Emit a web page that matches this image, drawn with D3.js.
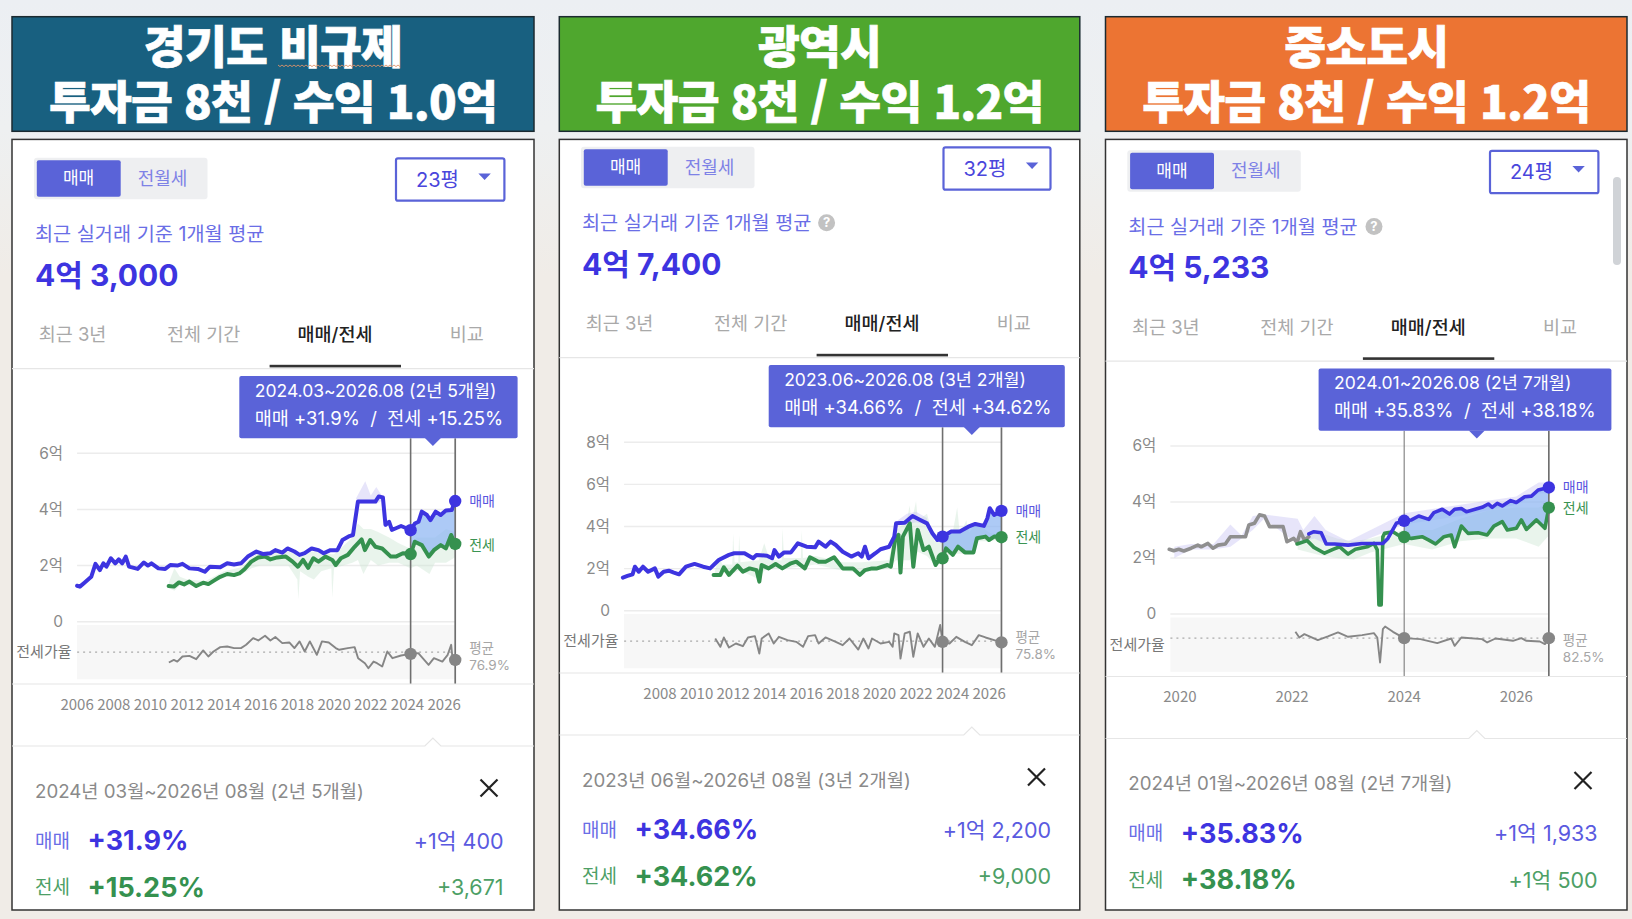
<!DOCTYPE html>
<html lang="ko">
<head>
<meta charset="utf-8">
<script src="https://cdn.jsdelivr.net/npm/d3@7"></script>
<style>
html,body{margin:0;padding:0;background:#f0ece7;}
svg{display:block;}
text{font-family:Inter,"Noto Sans CJK KR","Noto Sans",sans-serif;}
text.cjk{font-family:"Noto Sans CJK KR","Noto Sans",sans-serif;}
</style>
</head>
<body>
<svg id="chart" width="1632" height="919"></svg>
<script>
// titles + card text, one entry per region
const regions = ['경기도 비규제', '광역시', '중소도시'];
const headlines = ['투자금 8천 / 수익 1.0억', '투자금 8천 / 수익 1.2억', '투자금 8천 / 수익 1.2억'];
const sizes = ['23평', '32평', '24평'];
const prices = ['4억 3,000', '4억 7,400', '4억 5,233'];
const tabs = ['최근 3년', '전체 기간', '매매/전세', '비교'];
const tipRanges = ['2024.03~2026.08 (2년 5개월)', '2023.06~2026.08 (3년 2개월)', '2024.01~2026.08 (2년 7개월)'];
const tipValues = ['매매 +31.9%  /  전세 +15.25%', '매매 +34.66%  /  전세 +34.62%', '매매 +35.83%  /  전세 +38.18%'];
const detailRanges = ['2024년 03월~2026년 08월 (2년 5개월)', '2023년 06월~2026년 08월 (3년 2개월)', '2024년 01월~2026년 08월 (2년 7개월)'];
const salePct = ['+31.9%', '+34.66%', '+35.83%'];
const rentPct = ['+15.25%', '+34.62%', '+38.18%'];
const saleGain = ['+1억 400', '+1억 2,200', '+1억 1,933'];
const rentGain = ['+3,671', '+9,000', '+1억 500'];
const avgRatio = [76.9, 75.8, 82.5];
const rangeStart = [2024.17, 2023.45, 2024.0];
const rangeEnd = [2026.6, 2026.67, 2026.58];
const yTicks = [[0, 2, 4, 6], [0, 2, 4, 6, 8], [0, 2, 4, 6]];
const xTicks = [
  [2006, 2008, 2010, 2012, 2014, 2016, 2018, 2020, 2022, 2024, 2026],
  [2008, 2010, 2012, 2014, 2016, 2018, 2020, 2022, 2024, 2026],
  [2020, 2022, 2024, 2026],
];

// series: [year, 억] or [year, %]
const ggSale = [[2006,1.28],[2006.15,1.25],[2006.4,1.39],[2006.77,1.6],[2007,2.06],[2007.24,1.84],[2007.43,2.08],[2007.6,1.96],[2007.84,2.26],[2008.08,2.08],[2008.27,2.22],[2008.46,2.08],[2008.65,2.32],[2008.83,1.96],[2009.3,1.88],[2009.64,2.11],[2009.86,2],[2010.05,2.08],[2010.43,1.9],[2010.8,1.88],[2011.08,2.02],[2011.46,2],[2011.74,2.06],[2012.12,1.9],[2012.58,1.88],[2012.96,1.78],[2013.24,1.96],[2013.8,1.94],[2014.18,2.08],[2014.55,2.04],[2014.93,2.08],[2015.3,2.32],[2015.77,2.5],[2016.15,2.41],[2016.53,2.44],[2016.8,2.55],[2017.18,2.46],[2017.46,2.61],[2017.84,2.5],[2018.12,2.38],[2018.4,2.44],[2018.78,2.61],[2019.15,2.55],[2019.43,2.44],[2019.8,2.55],[2020.18,2.55],[2020.46,2.91],[2020.84,3.05],[2021.03,3.09],[2021.3,4.28],[2021.68,4.28],[2022.25,4.28],[2022.43,4.46],[2022.66,4.43],[2022.8,3.45],[2023,3.56],[2023.15,3.27],[2023.37,3.33],[2023.65,3.41],[2023.94,3.33],[2024.17,3.26],[2024.4,3.5],[2024.6,3.56],[2024.78,3.92],[2025.06,3.8],[2025.25,3.62],[2025.53,3.92],[2025.81,3.8],[2026.09,3.96],[2026.41,3.98],[2026.6,4.3]];
const ggRent = [[2010.99,1.27],[2011.27,1.25],[2011.55,1.4],[2011.83,1.33],[2012.12,1.43],[2012.49,1.27],[2012.87,1.39],[2013.15,1.34],[2013.52,1.49],[2013.8,1.6],[2014.18,1.7],[2014.55,1.66],[2014.84,1.72],[2015.12,1.87],[2015.49,2.14],[2015.87,2.29],[2016.24,2.32],[2016.53,2.22],[2016.9,2.29],[2017.37,2.32],[2017.74,2.14],[2018.03,1.96],[2018.31,2.2],[2018.59,1.92],[2018.87,2.26],[2019.15,2.14],[2019.53,2.32],[2019.9,2.2],[2020.09,2.02],[2020.37,2.26],[2020.75,2.38],[2021.12,2.67],[2021.5,2.93],[2021.68,2.55],[2021.97,2.91],[2022.25,2.67],[2022.62,2.61],[2023.09,2.32],[2023.37,2.32],[2023.75,2.44],[2024.17,2.41],[2024.4,2.85],[2024.78,2.73],[2025.16,2.32],[2025.44,2.55],[2025.81,2.73],[2026.09,2.61],[2026.38,3.09],[2026.6,2.77]];
const ggRatio = [[2011,59.7],[2011.27,64.1],[2011.46,61.3],[2011.74,69.7],[2012.12,70.8],[2012.49,65.2],[2012.87,79.7],[2013.15,69.7],[2013.43,78],[2013.8,85.2],[2014.18,86.3],[2014.55,83.6],[2014.93,83.6],[2015.21,89.1],[2015.59,100.2],[2015.87,96.3],[2016.24,104.1],[2016.53,96.3],[2016.8,101.9],[2017.18,91.9],[2017.56,93],[2017.84,83.6],[2018.12,94.7],[2018.4,78],[2018.68,94.7],[2019.06,72.5],[2019.34,94.7],[2019.71,93],[2020.09,83.6],[2020.28,80.8],[2020.75,83.6],[2021.12,85.2],[2021.31,66.9],[2021.68,58.6],[2021.87,50.2],[2022.15,61.3],[2022.34,58.6],[2022.62,53],[2022.9,78],[2023.18,66.9],[2023.65,71.3],[2024.17,74],[2024.59,75.2],[2025.15,55.8],[2025.44,66.9],[2025.9,61.3],[2026.19,72.5],[2026.38,89.1],[2026.47,61.3],[2026.6,64]];
// faint min/max bands: [year, low, high]
const ggRentBand = [[2011,1.2,1.4],[2011.3,1.1,1.9],[2011.6,1.3,1.6],[2012,1.3,1.5],[2013,1.3,1.45],[2014,1.6,1.8],[2015,1.7,1.95],[2015.5,1.9,2.3],[2016,2,2.5],[2017,2,2.45],[2017.5,2,2.5],[2018,1.5,2.4],[2018.05,.8,2.4],[2018.15,1.8,2.3],[2018.6,1.6,2.5],[2018.9,1.5,2.5],[2019.3,1.8,2.5],[2019.85,1.9,2.4],[2019.9,.85,2.4],[2020,1.9,2.4],[2020.5,2,2.7],[2021,2.1,3],[2021.3,2.2,3.5],[2021.6,1.7,3.3],[2022,2.2,3.3],[2022.4,2,3.2],[2023,2.1,3],[2023.5,2.1,2.8],[2024.17,1.9,2.6],[2024.5,2,3],[2025.2,1.7,3],[2025.5,2.1,3],[2026.1,2.1,3.3],[2026.6,2.3,3.2]];
const ggSaleBand = [[2021.2,4.2,4.4],[2021.7,4.2,5],[2022,4.2,4.5],[2022.3,4.2,4.8],[2022.6,4.3,4.5]];

const gjSale = [[2005.97,1.57],[2006.22,1.65],[2006.5,1.73],[2006.63,2.09],[2006.84,1.85],[2007.07,2.09],[2007.35,1.85],[2007.72,2.01],[2007.91,1.62],[2008.2,1.85],[2008.48,1.9],[2008.76,1.81],[2009.04,1.73],[2009.42,2.09],[2009.89,2.22],[2010.36,2.09],[2010.74,2.01],[2011.21,2.41],[2011.77,2.65],[2012.06,2.73],[2012.62,2.73],[2013.09,2.49],[2013.28,2.65],[2013.85,2.61],[2014.13,2.49],[2014.26,2.88],[2014.5,2.57],[2014.79,2.77],[2015.16,2.77],[2015.54,3.2],[2016.01,3.04],[2016.48,3.01],[2016.67,3.28],[2017.05,3.04],[2017.33,3.28],[2017.61,3.12],[2017.99,2.8],[2018.46,2.57],[2018.84,2.73],[2019.03,2.57],[2019.21,3.04],[2019.4,2.49],[2019.78,2.73],[2020.06,2.92],[2020.53,3.04],[2020.81,3.52],[2020.91,4.15],[2021.38,4.18],[2021.81,4.5],[2022.23,4.31],[2022.6,4.15],[2022.89,3.68],[2023.17,3.36],[2023.45,3.52],[2023.92,3.76],[2024.39,3.76],[2024.86,3.99],[2025.24,4.12],[2025.71,4.03],[2025.9,4.39],[2026.03,4.87],[2026.27,4.55],[2026.67,4.74]];
const gjRent = [[2010.93,1.7],[2011.3,1.7],[2011.49,2.06],[2011.77,1.7],[2012.24,2.14],[2012.53,1.85],[2012.9,2.01],[2013.28,1.93],[2013.43,1.38],[2013.56,2.17],[2013.94,2.01],[2014.32,2.22],[2014.69,2.01],[2015.16,2.25],[2015.45,2.33],[2015.92,2.01],[2016.2,2.54],[2016.67,2.33],[2017.05,2.33],[2017.52,2.54],[2017.99,2.01],[2018.55,2.01],[2018.93,1.7],[2019.21,1.93],[2019.59,2.01],[2019.87,2.01],[2020.44,2.17],[2020.62,2.09],[2020.87,3.44],[2021.04,3.6],[2021.15,1.81],[2021.28,3.52],[2021.66,4.15],[2021.85,2.09],[2022.09,3.84],[2022.41,2.88],[2022.7,3.04],[2023.07,2.17],[2023.36,2.57],[2023.45,2.49],[2023.64,2.96],[2024.01,2.65],[2024.3,3.04],[2024.67,2.77],[2025.14,2.77],[2025.33,3.44],[2025.8,3.52],[2025.99,3.36],[2026.27,3.52],[2026.67,3.49]];
const gjRatio = [[2011.02,80.2],[2011.3,66.4],[2011.49,81.9],[2011.77,65.2],[2012.15,71.9],[2012.53,67.5],[2012.81,81.9],[2013.19,84.1],[2013.43,55.2],[2013.56,80.2],[2013.94,88.6],[2014.22,71.9],[2014.5,83],[2014.97,77.5],[2015.45,74.7],[2015.82,66.4],[2016.1,84.1],[2016.48,85.8],[2016.67,71.9],[2017.05,81.9],[2017.61,74.7],[2017.99,69.1],[2018.36,80.2],[2018.84,61.9],[2019.12,80.2],[2019.4,63.6],[2019.59,80.2],[2020.06,71.9],[2020.53,74.7],[2020.72,66.4],[2020.81,88.6],[2021.04,85.8],[2021.15,46.9],[2021.38,88.6],[2021.66,91.4],[2021.85,49.7],[2022.09,88.6],[2022.41,66.4],[2022.7,80.2],[2023.03,66.4],[2023.32,102.5],[2023.45,74.7],[2023.83,71.9],[2024.2,83],[2024.67,74.7],[2025.05,69.1],[2025.43,85.8],[2025.8,81.9],[2026.27,77.5],[2026.67,73.6]];
const gjRentBand = [[2011,1.6,1.9],[2011.25,1.7,2.6],[2011.4,1.8,2.2],[2011.95,1.8,2.2],[2012,1.8,3.65],[2012.08,1.8,2.3],[2012.28,1.9,2.3],[2012.33,1.9,3.6],[2012.4,1.9,2.3],[2013.4,1.5,2.4],[2013.7,1.9,3.2],[2014,2,2.4],[2014.65,2,2.4],[2014.7,2,3.9],[2014.78,2,2.5],[2015.7,2.1,2.5],[2015.75,2.1,3.8],[2015.82,2.1,2.5],[2016.5,2.2,2.6],[2018,1.9,2.3],[2019,1.8,2.3],[2020.5,2,2.4],[2020.9,2.4,3.8],[2021.5,2.4,4.3],[2021.65,2.4,5],[2021.75,2.5,4.2],[2022,2.6,5.2],[2022.1,2.8,4.3],[2022.6,2.6,4.6],[2023,2.2,3.3],[2023.5,2.5,3.8],[2024,2.7,3.7],[2024.25,2.7,4.9],[2024.4,2.7,3.6],[2024.75,2.7,4.3],[2024.9,2.7,3.7],[2025.3,3.3,4.2],[2026,3.3,3.7],[2026.6,3.4,3.6]];
const gjSaleBand = [[2021,4.1,4.3],[2021.5,4.1,4.6],[2022,4.2,4.7],[2022.6,4.1,4.4]];

const smEarly = [[2019.81,2.31],[2019.89,2.26],[2019.98,2.31],[2020.07,2.25],[2020.2,2.35],[2020.32,2.46],[2020.38,2.4],[2020.5,2.52],[2020.59,2.35],[2020.68,2.46],[2020.81,2.5],[2020.9,2.76],[2021.17,2.76],[2021.23,3.18],[2021.33,3.24],[2021.42,3.54],[2021.51,3.5],[2021.6,3.12],[2021.84,3.12],[2021.91,2.58],[2022.03,2.7],[2022.09,2.55],[2022.15,2.94],[2022.22,2.64],[2022.3,2.76]];
const smSale = [[2022.3,2.86],[2022.39,2.94],[2022.52,2.9],[2022.61,2.5],[2022.76,2.5],[2023,2.46],[2023.25,2.52],[2023.62,2.52],[2023.71,2.7],[2023.86,3.24],[2024,3.33],[2024.13,3.36],[2024.26,3.5],[2024.44,3.38],[2024.53,3.62],[2024.68,3.74],[2024.81,3.57],[2024.9,3.74],[2025.02,3.77],[2025.11,3.65],[2025.39,3.81],[2025.5,3.93],[2025.57,3.81],[2025.66,3.95],[2025.75,3.86],[2025.9,4.05],[2026,3.98],[2026.15,4.19],[2026.27,4.21],[2026.39,4.43],[2026.58,4.52]];
const smRent = [[2022.09,2.5],[2022.27,2.62],[2022.39,2.38],[2022.58,2.17],[2022.73,2.31],[2022.85,2.4],[2023,2.14],[2023.13,2.31],[2023.34,2.4],[2023.46,2.52],[2023.52,2.29],[2023.55,.32],[2023.59,.32],[2023.62,2.76],[2023.65,2.88],[2023.8,2.94],[2023.89,2.82],[2024,2.75],[2024.13,2.7],[2024.32,2.76],[2024.44,2.64],[2024.56,2.5],[2024.71,2.76],[2024.84,2.82],[2024.9,2.4],[2025.02,3.14],[2025.14,2.88],[2025.32,2.9],[2025.48,2.82],[2025.6,3.14],[2025.75,3.3],[2025.84,3],[2026,3.06],[2026.09,3.36],[2026.18,3.02],[2026.36,3.36],[2026.51,3.06],[2026.58,3.8]];
const smRatio = [[2022.06,100.6],[2022.13,84.4],[2022.22,93.9],[2022.46,76.8],[2022.64,87.3],[2022.82,98.7],[2023,86.3],[2023.25,91.1],[2023.46,96.8],[2023.52,84.4],[2023.57,13],[2023.62,108.2],[2023.66,115.8],[2023.8,100.6],[2024,82.5],[2024.29,79.6],[2024.59,68.2],[2024.84,81.5],[2024.9,60.6],[2025.02,84.4],[2025.39,79.6],[2025.48,70.1],[2025.63,81.5],[2025.94,74.9],[2026.09,82.5],[2026.18,74.9],[2026.42,73],[2026.51,65.4],[2026.58,82.5]];
const smRentBand = [[2022.1,2.3,2.8],[2022.5,2.1,2.9],[2022.8,2,2.7],[2023.1,1.95,2.6],[2023.4,2.2,2.7],[2024,2.5,3],[2024.5,2.3,3],[2025,2.6,3.4],[2025.5,2.7,3.7],[2026,2.7,3.8],[2026.4,2.4,3.8],[2026.58,2.8,4]];
const smSaleBand = [[2019.9,2,2.4],[2020.2,2.3,2.5],[2020.6,2.3,2.5],[2020.9,2.4,3.2],[2021.1,2.7,2.8],[2021.3,3,3.5],[2021.5,3.4,3.55],[2022.1,2.5,3.4],[2022.2,2.6,3],[2022.4,2.7,3.5],[2022.6,2.5,3],[2023,2.4,2.6],[2024,3.2,3.6],[2025,3.5,3.9],[2026,3.9,4.2],[2026.4,4.3,4.7],[2026.58,4.3,4.7]];

const C = { btn:'#5a63d8', sale:'#3d34e0', saleSoft:'#6a6ee6', rent:'#35914f', grey:'#8a8a8a', ratio:'#868686' };

// layout per card
const cards = [
  { x0:12, x1:534, head:'#186080', dx:0, dy:0, xa:[2006,77.1], xb:[2026,444.2], y0:621.7, yt:453.3, yMax:6, tip:[239.3,517.6,432.9], dom:[avgRatio[0]-45,avgRatio[0]+45], lw:4, lwStart:1.6,
    sale:ggSale, rent:ggRent, ratio:ggRatio, rentBand:ggRentBand, saleBand:ggSaleBand },
  { x0:559.3, x1:1079.8, head:'#4fa72e', dx:547, dy:-11, xa:[2008,660], xb:[2026,989.2], y0:610.7, yt:442.3, yMax:8, tip:[768.7,1064.8,971.8], dom:[avgRatio[1]-45,avgRatio[1]+45], lw:4, lwStart:1.6,
    sale:gjSale, rent:gjRent, ratio:gjRatio, rentBand:gjRentBand, saleBand:gjSaleBand },
  { x0:1105.5, x1:1627, head:'#ec7433', dx:1093.3, dy:-7.5, xa:[2020,1179.9], xb:[2026,1516.3], y0:614, yt:446, yMax:6, tip:[1318.6,1611.4,1476.8], dom:[-13.7,141.5], lw:3.6, lwStart:1,
    sale:smSale, rent:smRent, ratio:smRatio, rentBand:smRentBand, saleBand:smSaleBand, early:smEarly },
];

const svg = d3.select('#chart');
const defs = svg.append('defs');
const bg = defs.append('linearGradient').attr('id','pagebg').attr('x1',0).attr('x2',0).attr('y1',0).attr('y2',1);
bg.append('stop').attr('offset','0').attr('stop-color','#eceff3');
bg.append('stop').attr('offset','0.14').attr('stop-color','#eef0f1');
bg.append('stop').attr('offset','0.3').attr('stop-color','#f0ece7');
svg.append('rect').attr('width',1632).attr('height',919).attr('fill','url(#pagebg)');

function label(g, x, y, str, size, color, opt) {
  opt = opt || {};
  return g.append('text').attr('x',x).attr('y',y).attr('dy','0.35em')
    .attr('class',opt.cls || null)
    .attr('text-anchor',opt.anchor || 'start').attr('font-size',size)
    .attr('font-weight',opt.weight || 400).attr('fill',color)
    .style('white-space','pre').text(str);
}

function drawCard(c, i) {
  const g = svg.append('g');
  const px = v => v + c.dx, py = v => v + c.dy;

  // coloured title block
  g.append('rect').attr('x',c.x0).attr('y',16.7).attr('width',c.x1-c.x0).attr('height',114.6)
    .attr('fill',c.head).attr('stroke','#1b2a30').attr('stroke-width',1.5);
  const mid = (c.x0+c.x1)/2;
  const title = g.append('text').attr('class','cjk').attr('text-anchor','middle').attr('font-size',45.5)
    .attr('font-weight',900).attr('fill','#fff').attr('stroke','#fff').attr('stroke-width',0.6).attr('letter-spacing',-0.8);
  title.append('tspan').attr('x',mid).attr('y',64).text(regions[i]);
  title.append('tspan').attr('x',mid).attr('y',119).text(headlines[i]);
  if (i === 0) {
    // spell-check squiggle under the word
    const zz = d3.range(0,62).map(k => [278+k*2, 65+(k%2)*1.6]);
    g.append('path').attr('d',d3.line()(zz)).attr('fill','none').attr('stroke','#e0946a').attr('stroke-width',0.9);
  }

  // white card
  g.append('rect').attr('x',c.x0).attr('y',139.4).attr('width',c.x1-c.x0).attr('height',770.6)
    .attr('fill','#fff').attr('stroke','#333').attr('stroke-width',1.5);

  // sale / rent toggle
  g.append('rect').attr('x',px(34)).attr('y',py(157.7)).attr('width',173.5).attr('height',41.6).attr('rx',3).attr('fill','#eeeff1');
  g.append('rect').attr('x',px(36.8)).attr('y',py(160.3)).attr('width',83.9).attr('height',36.4).attr('rx',2).attr('fill',C.btn);
  label(g, px(78.6), py(178.5), '매매', 17, '#fff', {anchor:'middle'});
  label(g, px(162.5), py(178.5), '전월세', 18, '#7e82e6', {anchor:'middle'});
  const ddx = i === 1 ? 547.5 : i === 2 ? 1094 : 0;
  g.append('rect').attr('x',396+ddx).attr('y',py(158.3)).attr('width',i === 1 ? 107 : 108.4).attr('height',42.4).attr('rx',2)
    .attr('fill','#fff').attr('stroke',C.btn).attr('stroke-width',2.2);
  label(g, 437.5+ddx, py(179.5), sizes[i], 20, '#4a46dc', {anchor:'middle'});
  g.append('path').attr('d',d3.line()([[478.4+ddx,py(173.5)],[490.8+ddx,py(173.5)],[484.6+ddx,py(180)]])+'Z').attr('fill',C.btn);

  label(g, px(35), py(234.5), '최근 실거래 기준 1개월 평균', 19.7, C.saleSoft);
  if (i > 0) {
    const hx = i === 1 ? 826.6 : 1374, hy = i === 1 ? 222.8 : 226.5;
    g.append('circle').attr('cx',hx).attr('cy',hy).attr('r',8.5).attr('fill','#c2c2c2');
    label(g, hx, hy, '?', 13, '#fff', {anchor:'middle', weight:700});
  }
  label(g, px(35), py(275), prices[i], 30, C.sale, {weight:700});

  // tabs
  [72.5,203.6,335,466.8].forEach((x,k) => {
    label(g, px(x), py(335), tabs[k], 18.5, k === 2 ? '#222' : '#a9a9a9', {anchor:'middle', weight:k === 2 ? 500 : 400});
  });
  g.append('line').attr('x1',c.x0).attr('x2',c.x1).attr('y1',py(368.7)).attr('y2',py(368.7)).attr('stroke','#e6e6e6').attr('stroke-width',1.2);
  g.append('rect').attr('x',px(269.6)).attr('y',py(364.8)).attr('width',131.4).attr('height',2.6).attr('fill','#333');

  // scales
  const x = d3.scaleLinear().domain([c.xa[0],c.xb[0]]).range([c.xa[1],c.xb[1]]);
  const y = d3.scaleLinear().domain([0,c.yMax]).range([c.y0,c.yt]);
  const bandTop = py(625), bandBot = py(679.3);
  const yr = d3.scaleLinear().domain(c.dom).range([bandBot,bandTop]);
  const plotL = px(77.1), endX = x(rangeEnd[i]), startX = x(rangeStart[i]);

  // gridlines + y labels
  yTicks[i].forEach(t => {
    g.append('line').attr('x1',plotL).attr('x2',endX).attr('y1',y(t)).attr('y2',y(t)).attr('stroke','#ececec').attr('stroke-width',1.4);
    label(g, px(63), y(t), t === 0 ? '0' : t+'억', 15.5, C.grey, {anchor:'end'});
  });

  // ratio strip
  g.append('rect').attr('x',plotL).attr('y',bandTop).attr('width',endX-plotL).attr('height',bandBot-bandTop).attr('fill','#f7f7f7');
  const avgY = yr(avgRatio[i]);
  g.append('line').attr('x1',plotL).attr('x2',endX).attr('y1',avgY).attr('y2',avgY)
    .attr('stroke','#aaa').attr('stroke-width',1.2).attr('stroke-dasharray','2 4');
  label(g, px(71.5), i === 2 ? py(652.5) : avgY, '전세가율', 15, '#777', {anchor:'end'});

  // faint bands
  const band = d3.area().x(d => x(d[0])).y0(d => y(d[1])).y1(d => y(d[2]));
  g.append('path').attr('d',band(c.rentBand)).attr('fill','#cfe6d4').attr('opacity',0.45);
  g.append('path').attr('d',band(c.saleBand)).attr('fill','#c9c6f5').attr('opacity',0.45);

  // selected range between the lines
  const inRange = d => d[0] >= rangeStart[i]-0.001;
  const sel = c.sale.filter(inRange).concat(c.rent.filter(inRange).reverse());
  g.append('path').attr('d',d3.line().x(d => x(d[0])).y(d => y(d[1]))(sel)+'Z').attr('fill','#8db6f2').attr('opacity',0.72);

  const line = d3.line().x(d => x(d[0])).y(d => y(d[1]));
  const stroke = (data, color, w) => g.append('path').attr('d',line(data)).attr('fill','none')
    .attr('stroke',color).attr('stroke-width',w).attr('stroke-linejoin','round').attr('stroke-linecap','round');
  if (c.early) stroke(c.early, '#8f8f8f', c.lw);
  stroke(c.rent, C.rent, c.lw);
  stroke(c.sale, C.sale, c.lw);
  g.append('path').attr('d',d3.line().x(d => x(d[0])).y(d => yr(d[1]))(c.ratio)).attr('fill','none')
    .attr('stroke',C.ratio).attr('stroke-width',1.9).attr('stroke-linejoin','round');

  // range markers
  const tipBottom = py(438.3);
  g.append('line').attr('x1',startX).attr('x2',startX).attr('y1',tipBottom).attr('y2',py(684)).attr('stroke','#6f6f6f').attr('stroke-width',c.lwStart);
  g.append('line').attr('x1',endX).attr('x2',endX).attr('y1',tipBottom).attr('y2',py(684)).attr('stroke','#6f6f6f').attr('stroke-width',1.7);

  const at = (data, yr0) => data.reduce((a,b) => Math.abs(b[0]-yr0) < Math.abs(a[0]-yr0) ? b : a);
  [rangeStart[i],rangeEnd[i]].forEach(t => {
    g.append('circle').attr('cx',x(t)).attr('cy',y(at(c.sale,t)[1])).attr('r',6.2).attr('fill',C.sale);
    g.append('circle').attr('cx',x(t)).attr('cy',y(at(c.rent,t)[1])).attr('r',6.2).attr('fill',C.rent);
    g.append('circle').attr('cx',x(t)).attr('cy',yr(at(c.ratio,t)[1])).attr('r',6.2).attr('fill',C.ratio);
  });

  // end labels
  const lx = endX + 14;
  label(g, lx, y(at(c.sale,rangeEnd[i])[1]), '매매', 14, '#5a55e0');
  label(g, lx, y(at(c.rent,rangeEnd[i])[1]) + (i === 0 ? 1 : 0), '전세', 14, '#3b9452');
  label(g, lx, py(648), '평균', 13.5, '#a6a6a6');
  label(g, lx, py(665), avgRatio[i]+'%', 13.5, '#a6a6a6');

  // tooltip
  const [tl,tr,ta] = c.tip;
  g.append('rect').attr('x',tl).attr('y',py(376)).attr('width',tr-tl).attr('height',62.3).attr('rx',2).attr('fill',C.btn);
  g.append('path').attr('d',d3.line()([[ta-8,py(438)],[ta+8,py(438)],[ta,py(446)]])+'Z').attr('fill',C.btn);
  label(g, tl+15.5, py(390.8), tipRanges[i], 17.5, '#fff');
  label(g, tl+15.5, py(418.5), tipValues[i], 18.5, '#fff');

  // x axis
  g.append('line').attr('x1',c.x0).attr('x2',c.x1).attr('y1',py(684)).attr('y2',py(684)).attr('stroke','#e6e6e6').attr('stroke-width',1.2);
  xTicks[i].forEach(t => label(g, x(t), py(704.5), String(t), 15, C.grey, {anchor:'middle', cls:'cjk'}));

  // detail section
  g.append('path').attr('d',d3.line()([[c.x0,py(746)],[ta-8,py(746)],[ta,py(738)],[ta+8,py(746)],[c.x1,py(746)]]))
    .attr('fill','#fff').attr('stroke','#e6e6e6').attr('stroke-width',1.2);
  label(g, px(35), py(791), detailRanges[i], 18.7, C.grey);
  const xc = 489+ddx, yc = py(788);
  g.append('path').attr('d',`M${xc-8.5},${yc-8.5}L${xc+8.5},${yc+8.5}M${xc+8.5},${yc-8.5}L${xc-8.5},${yc+8.5}`).attr('stroke','#222').attr('stroke-width',2.2);
  label(g, px(35), py(841), '매매', 19, C.saleSoft);
  label(g, px(87.5), py(841), salePct[i], 27, C.sale, {weight:700});
  label(g, 503.6+ddx, py(841), saleGain[i], 21.5, '#5a5ae0', {anchor:'end'});
  label(g, px(35), py(887.5), '전세', 19, '#4d9f66');
  label(g, px(87.5), py(887.5), rentPct[i], 27, C.rent, {weight:700});
  label(g, 503.6+ddx, py(887.5), rentGain[i], 21.5, '#4d9f66', {anchor:'end'});
}

cards.forEach(drawCard);

// scrollbar on the last card
svg.append('rect').attr('x',1613).attr('y',177).attr('width',8).attr('height',88).attr('rx',4).attr('fill','#d0d3d7');
</script>
</body>
</html>
